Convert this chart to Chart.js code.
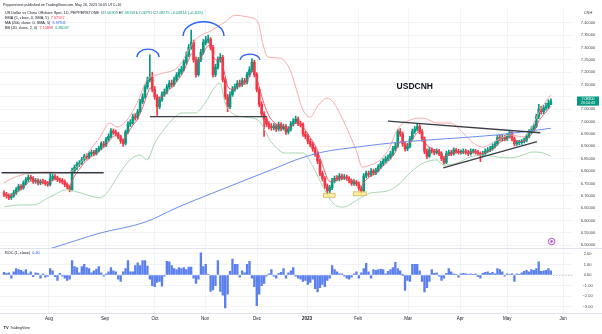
<!DOCTYPE html>
<html>
<head>
<meta charset="utf-8">
<script src="https://cdn.jsdelivr.net/npm/chart.js@4.4.0/dist/chart.umd.min.js"></script>
<style>
  html, body { margin: 0; padding: 0; background: #fff; }
  #wrap { position: relative; width: 602px; height: 334px; overflow: hidden; background: #fff; }
  canvas { position: absolute; left: 0; }
  #main { top: 0; }
  #roc { top: 248px; }
</style>
</head>
<body>
<div id="wrap">
  <canvas id="main" width="602" height="248"></canvas>
  <canvas id="roc" width="602" height="86"></canvas>
</div>
<script>

const opens = [
  6.712,6.705,6.700,6.692,6.700,6.712,6.725,6.738,6.732,6.752,
  6.765,6.775,6.770,6.758,6.762,6.752,6.758,6.756,6.750,6.746,
  6.768,6.778,6.772,6.765,6.760,6.756,6.745,6.736,6.725,6.800,
  6.815,6.828,6.832,6.846,6.860,6.856,6.870,6.876,6.871,6.884,
  6.892,6.910,6.905,6.928,6.940,6.962,6.956,6.950,6.938,6.922,
  6.912,6.958,6.990,6.996,7.020,7.016,7.040,7.080,7.100,7.140,
  7.168,7.180,7.130,7.100,7.060,7.090,7.110,7.120,7.140,7.155,
  7.150,7.170,7.188,7.200,7.212,7.240,7.270,7.300,7.320,7.250,
  7.190,7.250,7.280,7.320,7.330,7.332,7.300,7.190,7.220,7.250,
  7.260,7.170,7.100,7.060,7.110,7.130,7.140,7.155,7.150,7.165,
  7.160,7.190,7.210,7.240,7.190,7.130,7.070,7.030,7.010,6.990,
  6.980,6.975,6.982,6.970,6.988,6.972,6.980,6.958,6.970,6.990,
  7.000,7.010,6.992,6.988,6.950,6.940,6.920,6.908,6.890,6.870,
  6.840,6.790,6.770,6.740,6.720,6.732,6.760,6.770,6.768,6.780,
  6.772,6.776,6.770,6.760,6.750,6.755,6.748,6.730,6.720,6.780,
  6.790,6.785,6.800,6.792,6.802,6.818,6.830,6.840,6.850,6.855,
  6.870,6.890,6.900,6.960,6.950,6.910,6.890,6.900,6.930,6.960,
  6.970,6.980,6.960,6.930,6.880,6.860,6.885,6.880,6.875,6.880,
  6.870,6.850,6.835,6.870,6.875,6.870,6.885,6.880,6.875,6.876,
  6.880,6.875,6.870,6.880,6.880,6.875,6.870,6.865,6.870,6.880,
  6.885,6.890,6.900,6.910,6.935,6.930,6.935,6.930,6.940,6.955,
  6.930,6.910,6.915,6.915,6.920,6.925,6.940,6.960,6.970,6.980,
  7.020,7.050,7.040,7.055,7.060,7.069
];
const highs = [
  6.720,6.714,6.708,6.709,6.722,6.733,6.746,6.745,6.760,6.774,
  6.784,6.783,6.777,6.770,6.768,6.766,6.767,6.763,6.758,6.790,
  6.788,6.786,6.780,6.772,6.770,6.764,6.752,6.743,6.812,6.824,
  6.836,6.842,6.855,6.868,6.870,6.878,6.885,6.884,6.892,6.901,
  6.918,6.920,6.936,6.950,6.972,6.970,6.966,6.957,6.945,6.930,
  6.966,7.000,7.008,7.030,7.032,7.050,7.090,7.112,7.150,7.180,
  7.270,7.200,7.142,7.108,7.100,7.120,7.132,7.150,7.166,7.168,
  7.180,7.198,7.212,7.224,7.250,7.282,7.312,7.370,7.330,7.262,
  7.260,7.292,7.332,7.345,7.350,7.340,7.308,7.232,7.262,7.275,
  7.268,7.178,7.110,7.120,7.142,7.152,7.166,7.168,7.176,7.175,
  7.200,7.222,7.255,7.248,7.198,7.138,7.080,7.040,7.020,7.000,
  6.992,6.992,6.990,6.998,6.996,6.990,6.988,6.980,7.000,7.012,
  7.022,7.018,7.002,6.995,6.960,6.948,6.930,6.916,6.898,6.878,
  6.848,6.800,6.778,6.748,6.742,6.770,6.780,6.782,6.790,6.788,
  6.786,6.784,6.778,6.768,6.765,6.762,6.756,6.738,6.790,6.800,
  6.800,6.810,6.808,6.812,6.826,6.840,6.850,6.860,6.866,6.880,
  6.900,6.912,6.968,6.972,6.958,6.918,6.912,6.940,6.970,6.980,
  6.992,6.988,6.968,6.938,6.890,6.895,6.894,6.888,6.890,6.888,
  6.878,6.858,6.880,6.885,6.884,6.894,6.892,6.888,6.886,6.890,
  6.888,6.884,6.890,6.889,6.888,6.884,6.878,6.880,6.890,6.895,
  6.900,6.910,6.920,6.945,6.944,6.945,6.944,6.950,6.962,6.960,
  6.938,6.924,6.924,6.928,6.934,6.948,6.968,6.980,6.990,7.030,
  7.070,7.062,7.066,7.075,7.088,7.092
];
const lows = [
  6.696,6.690,6.684,6.685,6.694,6.705,6.718,6.724,6.726,6.745,
  6.758,6.762,6.750,6.750,6.744,6.745,6.748,6.742,6.738,6.740,
  6.760,6.764,6.757,6.752,6.748,6.737,6.728,6.716,6.720,6.792,
  6.806,6.818,6.826,6.840,6.848,6.850,6.862,6.863,6.865,6.877,
  6.886,6.897,6.899,6.921,6.934,6.948,6.942,6.930,6.912,6.900,
  6.905,6.952,6.980,6.990,7.006,7.010,7.034,7.072,7.094,7.132,
  7.160,7.120,7.090,7.025,7.052,7.082,7.102,7.112,7.132,7.140,
  7.143,7.162,7.180,7.192,7.205,7.232,7.262,7.292,7.240,7.180,
  7.184,7.242,7.272,7.310,7.318,7.290,7.180,7.182,7.212,7.240,
  7.160,7.090,7.040,7.052,7.102,7.122,7.132,7.140,7.142,7.150,
  7.152,7.182,7.202,7.180,7.120,7.060,7.020,6.940,6.980,6.970,
  6.965,6.966,6.960,6.962,6.962,6.965,6.948,6.950,6.962,6.982,
  6.992,6.984,6.978,6.940,6.930,6.910,6.898,6.880,6.860,6.830,
  6.780,6.760,6.730,6.705,6.712,6.725,6.752,6.760,6.760,6.764,
  6.765,6.762,6.752,6.742,6.742,6.740,6.722,6.710,6.715,6.772,
  6.776,6.778,6.784,6.785,6.796,6.810,6.822,6.832,6.842,6.848,
  6.862,6.882,6.895,6.940,6.900,6.880,6.882,6.894,6.924,6.952,
  6.962,6.950,6.920,6.870,6.850,6.855,6.872,6.866,6.868,6.862,
  6.842,6.828,6.830,6.862,6.862,6.864,6.872,6.868,6.868,6.870,
  6.868,6.862,6.864,6.872,6.868,6.862,6.838,6.858,6.864,6.874,
  6.878,6.884,6.893,6.904,6.922,6.922,6.922,6.924,6.934,6.922,
  6.902,6.904,6.906,6.908,6.914,6.918,6.934,6.952,6.962,6.975,
  7.012,7.030,7.032,7.046,7.052,7.068
];
const closes = [
  6.705,6.700,6.692,6.700,6.712,6.725,6.738,6.732,6.752,6.765,
  6.775,6.770,6.758,6.762,6.752,6.758,6.756,6.750,6.746,6.768,
  6.778,6.772,6.765,6.760,6.756,6.745,6.736,6.725,6.800,6.815,
  6.828,6.832,6.846,6.860,6.856,6.870,6.876,6.871,6.884,6.892,
  6.910,6.905,6.928,6.940,6.962,6.956,6.950,6.938,6.922,6.912,
  6.958,6.990,6.996,7.020,7.016,7.040,7.080,7.100,7.140,7.168,
  7.180,7.130,7.100,7.060,7.090,7.110,7.120,7.140,7.155,7.150,
  7.170,7.188,7.200,7.212,7.240,7.270,7.300,7.320,7.250,7.190,
  7.250,7.280,7.320,7.330,7.332,7.300,7.190,7.220,7.250,7.260,
  7.170,7.100,7.060,7.110,7.130,7.140,7.155,7.150,7.165,7.160,
  7.190,7.210,7.240,7.190,7.130,7.070,7.030,7.010,6.990,6.980,
  6.975,6.982,6.970,6.988,6.972,6.980,6.958,6.970,6.990,7.000,
  7.010,6.992,6.988,6.950,6.940,6.920,6.908,6.890,6.870,6.840,
  6.790,6.770,6.740,6.720,6.732,6.760,6.770,6.768,6.780,6.772,
  6.776,6.770,6.760,6.750,6.755,6.748,6.730,6.720,6.780,6.790,
  6.785,6.800,6.792,6.802,6.818,6.830,6.840,6.850,6.855,6.870,
  6.890,6.900,6.960,6.950,6.910,6.890,6.900,6.930,6.960,6.970,
  6.980,6.960,6.930,6.880,6.860,6.885,6.880,6.875,6.880,6.870,
  6.850,6.835,6.870,6.875,6.870,6.885,6.880,6.875,6.876,6.880,
  6.875,6.870,6.880,6.880,6.875,6.870,6.865,6.870,6.880,6.885,
  6.890,6.900,6.910,6.935,6.930,6.935,6.930,6.940,6.955,6.930,
  6.910,6.915,6.915,6.920,6.925,6.940,6.960,6.970,6.980,7.020,
  7.050,7.040,7.055,7.060,7.075,7.083
];
const ema5 = [
  6.708,6.705,6.701,6.701,6.705,6.712,6.721,6.725,6.734,6.744,
  6.754,6.759,6.759,6.760,6.757,6.757,6.757,6.755,6.752,6.757,
  6.764,6.767,6.766,6.764,6.761,6.756,6.749,6.741,6.761,6.779,
  6.795,6.807,6.820,6.833,6.841,6.851,6.859,6.863,6.870,6.877,
  6.888,6.894,6.905,6.917,6.932,6.940,6.943,6.941,6.935,6.927,
  6.937,6.955,6.969,6.986,6.996,7.011,7.034,7.056,7.084,7.112,
  7.135,7.133,7.122,7.101,7.097,7.101,7.107,7.118,7.130,7.137,
  7.148,7.161,7.174,7.187,7.205,7.227,7.251,7.274,7.266,7.241,
  7.244,7.256,7.277,7.295,7.307,7.305,7.267,7.251,7.251,7.254,
  7.226,7.184,7.143,7.132,7.131,7.134,7.141,7.144,7.151,7.154,
  7.166,7.181,7.201,7.197,7.175,7.140,7.103,7.072,7.045,7.023,
  7.007,6.999,6.989,6.989,6.983,6.982,6.974,6.973,6.979,6.986,
  6.994,6.993,6.991,6.977,6.965,6.950,6.936,6.921,6.904,6.883,
  6.852,6.825,6.797,6.771,6.758,6.759,6.763,6.765,6.770,6.771,
  6.772,6.771,6.767,6.761,6.759,6.755,6.747,6.738,6.752,6.765,
  6.772,6.781,6.785,6.791,6.800,6.810,6.820,6.830,6.838,6.849,
  6.863,6.875,6.903,6.919,6.916,6.907,6.905,6.913,6.929,6.943,
  6.955,6.957,6.948,6.925,6.903,6.897,6.891,6.886,6.884,6.879,
  6.869,6.858,6.862,6.866,6.867,6.873,6.875,6.875,6.875,6.877,
  6.876,6.874,6.876,6.877,6.876,6.874,6.871,6.871,6.874,6.878,
  6.882,6.888,6.895,6.908,6.915,6.922,6.925,6.930,6.938,6.935,
  6.927,6.923,6.920,6.920,6.922,6.928,6.939,6.949,6.959,6.979,
  7.003,7.015,7.028,7.039,7.051,7.062
];
// [bar index, value] readings of the smoother indicator lines
const bbUpper = [
  [0,6.752],[3.7,6.772],[10,6.790],[18.9,6.796],[25.9,6.792],[30,6.816],[35.4,6.885],
  [39.5,6.938],[43.6,6.994],[46.5,6.978],[50.6,7.006],[54.7,7.074],[58.8,7.167],
  [64.2,7.192],[71.6,7.221],[78.6,7.330],[85.6,7.370],[91,7.403],[95,7.430],
  [100.4,7.423],[104.5,7.403],[106.6,7.310],[108.6,7.261],[113.6,7.257],[117.7,7.209],
  [120,7.140],[123,7.047],[126,7.018],[128.8,7.059],[132.9,7.095],[135.4,7.079],
  [139.5,7.006],[145.3,6.873],[147.3,6.816],[150.6,6.824],[154.7,6.844],[158.8,6.897],
  [161.7,6.966],[167,7.006],[172.4,7.014],[178.2,6.994],[183.5,6.994],[188.9,6.954],
  [193,6.913],[197.1,6.897],[202.9,6.925],[208.2,6.946],[213.6,6.938],[216.5,6.966],
  [220.6,7.047],[225,7.109]
];
const bbLower = [
  [0,6.655],[6.6,6.663],[11.9,6.663],[18.9,6.695],[25.9,6.724],[31.3,6.712],[39.5,6.692],
  [42.4,6.712],[47.7,6.793],[51.8,6.845],[56,6.865],[58.8,6.845],[62.1,6.914],
  [69.1,7.006],[73.3,7.035],[78.6,7.035],[82.7,7.075],[86.8,7.140],[88.9,7.156],
  [91,7.075],[93.8,7.035],[99.2,7.018],[104.5,7.006],[110.3,6.913],[115.6,6.873],
  [119.8,6.873],[123,6.873],[127.2,6.816],[131.3,6.735],[135.4,6.670],[139.5,6.654],
  [145.3,6.683],[150.6,6.711],[154.7,6.715],[158.8,6.723],[163,6.751],[167,6.792],
  [172.4,6.832],[178.2,6.845],[180.7,6.824],[186.4,6.832],[191.8,6.857],[197.1,6.865],
  [202.9,6.857],[208.2,6.853],[213.6,6.865],[217.7,6.877],[221.8,6.873],[225,6.860]
];
const sma200 = [
  [17,6.480],[21,6.492],[39.5,6.549],[58,6.593],[71.6,6.654],[85.6,6.710],[99.2,6.763],
  [112.8,6.816],[119.8,6.844],[131.3,6.877],[145.3,6.897],[158.8,6.913],[179.4,6.929],
  [202.9,6.946],[225,6.973]
];
const rocValues = [
  0.25,0.15,0.2,-0.3,0.3,0.6,0.5,0.45,0.3,0.5,
  0.1,0.3,-0.15,0.2,0.15,-0.3,0.1,-0.2,-0.1,0.6,
  0.4,-0.15,-0.5,0.15,-0.1,-0.3,-0.5,-0.4,1.35,0.8,
  0.7,0.2,0.8,1.0,0.7,0.6,0.2,0.4,0.55,0.8,
  0.2,-0.1,0.1,0.3,0.7,0.4,0.3,-0.4,-0.6,0.3,
  0.6,1.35,0.3,0.3,0.9,1.15,0.9,1.35,1.35,0.85,
  -0.4,-1.0,-1.1,-0.7,-0.6,-1.05,-0.1,1.3,1.25,0.9,
  0.6,0.5,0.7,0.6,0.7,0.5,0.75,0.75,-0.3,-0.8,
  -0.4,2.1,0.8,1.0,0.05,-1.55,-1.4,-1.0,1.35,-1.55,
  -1.9,-3.1,-1.8,0.35,1.5,1.0,1.0,-0.2,0.4,0.2,
  1.0,1.3,-0.3,-1.1,-2.9,-1.8,-1.0,-0.8,-0.1,0.1,
  0.5,-0.1,-0.3,0.15,0.25,0.6,-0.3,0.2,0.4,0.7,
  -0.1,-0.3,-0.4,-0.6,-0.5,-0.9,-0.7,-0.4,-1.3,-1.6,
  -1.2,-0.9,-1.1,-0.5,-0.3,0.9,0.5,0.3,0.1,0.1,
  -0.1,-0.3,-0.4,-0.2,0.1,0.3,-0.3,0.2,0.6,1.1,
  0.3,-0.3,0.5,0.45,0.5,0.55,0.5,0.1,0.35,0.5,
  0.7,1.2,0.6,0.4,0,-1.45,-0.5,-0.6,1.0,1.0,
  1.0,0.4,-0.6,-1.6,-1.2,-0.6,0.5,0.15,0.2,-0.1,
  -0.5,-0.3,0.15,0.6,0.3,0.1,0.02,-0.2,0.1,0.15,
  0.1,0.05,0.1,0.05,0.1,-0.15,-0.3,0.15,0.25,0.3,
  0.15,0.25,0.1,0.6,0.5,0.3,-0.1,0.1,0.05,0.1,
  -0.6,0.1,0.02,0.2,0.35,0.45,0.3,0.5,0.45,0.6,
  1.25,0.35,0.4,0.45,0.6,0.4
];

const monthTicks = [18.5, 41.6, 62.1, 82.7, 104.1, 124.7, 145.7, 166.3, 187.7, 207, 230];
const monthLabels = ['Aug', 'Sep', 'Oct', 'Nov', 'Dec', '2023', 'Feb', 'Mar', 'Apr', 'May', 'Jun'];
const priceTicks = [7.40, 7.35, 7.30, 7.25, 7.20, 7.15, 7.10, 7.05, 7.00, 6.95, 6.90,
                    6.85, 6.80, 6.75, 6.70, 6.65, 6.60, 6.55, 6.50];
const rocTicks = [2, 1, 0, -1, -2, -3];

// drawings on the chart: [from bar, to bar, price] etc.
const supportLines = [
  [[-1, 6.793], [41, 6.793]],
  [[60, 7.020], [108, 7.020]],
  [[158, 7.002], [220.6, 6.955]],
  [[180.7, 6.813], [219.3, 6.919]]
];
const arcMarks = [[54.7, 63.8, 7.261, 7.293], [73.7, 90.5, 7.346, 7.404], [97.1, 105.3, 7.249, 7.273]];
const boxMarks = [[131.4, 136.2, 6.710, 6.694], [143.7, 149, 6.716, 6.700]];

const UP = '#089981';
const DOWN = '#f23645';
const FONT = "'Liberation Sans', Arial, sans-serif";
const GRID = '#f2f3f6';
const AXIS_TEXT = '#434651';

Chart.defaults.font.family = FONT;

const X_MIN = -1.65, X_MAX = 234.1;
const idx = closes.map((_, i) => i);
const candleColor = ctx => closes[ctx.dataIndex] >= opens[ctx.dataIndex] ? UP : DOWN;
const pairs = arr => arr.map(p => ({ x: p[0], y: p[1] }));

function drawRuns(ctx, x, y, runs, size, bold) {
  ctx.font = (bold ? 'bold ' : '') + size + 'px ' + FONT;
  ctx.textAlign = 'left';
  ctx.textBaseline = 'middle';
  runs.forEach(([text, color]) => {
    ctx.fillStyle = color;
    ctx.fillText(text, x, y);
    x += ctx.measureText(text).width;
  });
}

function fixedWidth(w) {
  return s => { s.width = w; s.paddingTop = 0; s.paddingBottom = 0; };
}

const mainOverlay = {
  id: 'mainOverlay',
  afterDatasetsDraw(chart) {
    const { ctx } = chart;
    const x = chart.scales.x, y = chart.scales.y;
    ctx.save();

    // blue arcs over the tops
    ctx.strokeStyle = '#2962ff';
    ctx.lineWidth = 1.4;
    arcMarks.forEach(a => {
      const x0 = x.getPixelForValue(a[0]), x1 = x.getPixelForValue(a[1]);
      const yb = y.getPixelForValue(a[2]), yt = y.getPixelForValue(a[3]);
      ctx.beginPath();
      ctx.ellipse((x0 + x1) / 2, yb, (x1 - x0) / 2, yb - yt, 0, Math.PI, 2 * Math.PI);
      ctx.stroke();
    });

    // yellow boxes at the double bottom
    ctx.lineWidth = 0.8;
    boxMarks.forEach(b => {
      const x0 = x.getPixelForValue(b[0]), x1 = x.getPixelForValue(b[1]);
      const y0 = y.getPixelForValue(b[2]), y1 = y.getPixelForValue(b[3]);
      ctx.fillStyle = 'rgba(255, 235, 130, 0.75)';
      ctx.fillRect(x0, y0, x1 - x0, y1 - y0);
      ctx.strokeStyle = '#cfb75a';
      ctx.strokeRect(x0, y0, x1 - x0, y1 - y0);
    });

    // symbol name
    ctx.font = 'bold 8.5px ' + FONT;
    ctx.fillStyle = '#131722';
    ctx.textAlign = 'center';
    ctx.textBaseline = 'middle';
    ctx.fillText('USDCNH', x.getPixelForValue(169), y.getPixelForValue(7.14));

    // event marker
    const mx = x.getPixelForValue(225.3), my = y.getPixelForValue(6.515);
    ctx.beginPath();
    ctx.arc(mx, my, 3.3, 0, 2 * Math.PI);
    ctx.fillStyle = '#f6e9fa';
    ctx.fill();
    ctx.strokeStyle = '#ab47bc';
    ctx.lineWidth = 0.9;
    ctx.stroke();
    ctx.fillStyle = '#ab47bc';
    ctx.beginPath();
    ctx.arc(mx, my, 1.2, 0, 2 * Math.PI);
    ctx.fill();

    // last price label
    const last = closes[closes.length - 1];
    const py = y.getPixelForValue(last);
    ctx.fillStyle = UP;
    ctx.fillRect(577, py - 4.6, 22, 9.2);
    ctx.fillStyle = '#ffffff';
    ctx.font = '3.6px ' + FONT;
    ctx.textAlign = 'center';
    ctx.fillText(last.toFixed(5), 588, py - 2);
    ctx.fillText('20:54:43', 588, py + 2.4);

    ctx.restore();
  },
  afterDraw(chart) {
    const { ctx } = chart;
    ctx.save();
    drawRuns(ctx, 3, 4.5, [['Pepperstone published on TradingView.com, May 26, 2023 10:05 UTC+10', '#131722']], 3.6);
    drawRuns(ctx, 5, 13.3, [
      ['US Dollar vs China Offshore Spot, 1D, PEPPERSTONE  ', '#131722'],
      ['O', '#131722'], ['7.06909 ', UP], ['H', '#131722'], ['7.09158 ', UP],
      ['L', '#131722'], ['7.06791 ', UP], ['C', '#131722'], ['7.08275 ', UP],
      ['+0.02814 (+0.40%)', UP]
    ], 3.8);
    drawRuns(ctx, 5, 18.3, [['EMA (5, close, 0, SMA, 5)  ', '#131722'], ['7.07592', DOWN]], 3.8);
    drawRuns(ctx, 5, 22.9, [['MA (200, close, 0, SMA, 5)  ', '#131722'], ['6.97311', '#2962ff']], 3.8);
    drawRuns(ctx, 5, 27.7, [['BB (20, close, 2, 0)  ', '#131722'], ['7.10898  ', DOWN], ['6.86037', UP]], 3.8);
    ctx.font = '4px ' + FONT;
    ctx.fillStyle = AXIS_TEXT;
    ctx.textAlign = 'center';
    ctx.textBaseline = 'middle';
    ctx.fillText('CNH', 588, 13);
    ctx.restore();
  }
};

const rocOverlay = {
  id: 'rocOverlay',
  afterDatasetsDraw(chart) {
    const { ctx, chartArea } = chart;
    const x = chart.scales.x, y = chart.scales.y;
    ctx.save();
    // zero line to the right of the last bar
    const y0 = Math.round(y.getPixelForValue(0)) + 0.5;
    ctx.strokeStyle = '#b2b5be';
    ctx.lineWidth = 1;
    ctx.setLineDash([1, 2]);
    ctx.beginPath();
    ctx.moveTo(x.getPixelForValue(rocValues.length), y0);
    ctx.lineTo(chartArea.right, y0);
    ctx.stroke();
    ctx.setLineDash([]);
    // pane separators
    ctx.strokeStyle = '#e0e3eb';
    ctx.beginPath();
    ctx.moveTo(0, 0.5);
    ctx.lineTo(602, 0.5);
    ctx.moveTo(0, Math.round(chartArea.bottom) + 0.5);
    ctx.lineTo(602, Math.round(chartArea.bottom) + 0.5);
    ctx.stroke();
    // legend
    drawRuns(ctx, 5, 4.8, [['ROC (1, close)  ', '#131722'], [rocValues[rocValues.length - 1].toFixed(2), '#2962ff']], 3.8);
    // footer logo
    drawRuns(ctx, 3.5, 80, [['TV', '#131722']], 4, true);
    drawRuns(ctx, 10, 80, [['TradingView', '#131722']], 3.6);
    ctx.restore();
  }
};

new Chart(document.getElementById('main'), {
  type: 'bar',
  data: {
    datasets: [
      {
        label: 'wicks', order: 10, grouped: false,
        data: idx.map(i => ({ x: i, y: [lows[i], highs[i]] })),
        backgroundColor: candleColor, barThickness: 1, borderWidth: 0
      },
      {
        label: 'bodies', order: 9, grouped: false,
        data: idx.map(i => ({ x: i, y: [opens[i], closes[i]] })),
        backgroundColor: candleColor, barThickness: 2, minBarLength: 1, borderWidth: 0
      },
      {
        type: 'line', label: 'BB upper', order: 5, data: pairs(bbUpper),
        borderColor: '#f4a3a3', borderWidth: 0.9, pointRadius: 0, tension: 0.4, cubicInterpolationMode: 'monotone'
      },
      {
        type: 'line', label: 'BB lower', order: 5, data: pairs(bbLower),
        borderColor: '#9fd3a8', borderWidth: 0.9, pointRadius: 0, tension: 0.4, cubicInterpolationMode: 'monotone'
      },
      {
        type: 'line', label: 'MA 200', order: 4, data: pairs(sma200),
        borderColor: '#6c8df0', borderWidth: 1, pointRadius: 0, tension: 0.4, cubicInterpolationMode: 'monotone'
      },
      {
        type: 'line', label: 'EMA 5', order: 3, data: idx.map(i => ({ x: i, y: ema5[i] })),
        borderColor: '#ef4c5c', borderWidth: 0.9, pointRadius: 0, tension: 0.3
      },
      ...supportLines.map(seg => ({
        type: 'line', label: 'trend', order: 1, data: pairs(seg),
        borderColor: '#3b3d45', borderWidth: 1.4, pointRadius: 0
      }))
    ]
  },
  options: {
    responsive: false,
    animation: false,
    devicePixelRatio: 1,
    layout: { padding: { top: 9, left: 0, right: 0, bottom: 0 } },
    plugins: { legend: { display: false }, tooltip: { enabled: false } },
    scales: {
      x: {
        type: 'linear', min: X_MIN, max: X_MAX, offset: false,
        afterBuildTicks: s => { s.ticks = monthTicks.map(v => ({ value: v })); },
        ticks: { display: false },
        grid: { color: GRID, drawTicks: false, offset: false },
        border: { display: false },
        afterFit: s => { s.height = 0; s.paddingLeft = 0; s.paddingRight = 0; }
      },
      y: {
        position: 'right', min: 6.4887, max: 7.4554,
        afterBuildTicks: s => { s.ticks = priceTicks.map(v => ({ value: v })); },
        ticks: {
          autoSkip: false, crossAlign: 'center', padding: 7.8, color: AXIS_TEXT,
          font: { size: 4 },
          callback: v => Math.abs(v - 7.10) < 1e-9 ? '' : v.toFixed(5)
        },
        grid: { color: GRID, drawTicks: false },
        border: { display: false },
        afterFit: fixedWidth(29)
      }
    }
  },
  plugins: [mainOverlay]
});

new Chart(document.getElementById('roc'), {
  type: 'bar',
  data: {
    datasets: [{
      label: 'ROC',
      data: idx.map(i => ({ x: i, y: rocValues[i] })),
      backgroundColor: '#5b80ee', barThickness: 1.7, minBarLength: 0.6, borderWidth: 0
    }]
  },
  options: {
    responsive: false,
    animation: false,
    devicePixelRatio: 1,
    layout: { padding: 0 },
    plugins: { legend: { display: false }, tooltip: { enabled: false } },
    scales: {
      x: {
        type: 'linear', min: X_MIN, max: X_MAX, offset: false,
        afterBuildTicks: s => { s.ticks = monthTicks.map(v => ({ value: v })); },
        ticks: {
          autoSkip: false, maxRotation: 0, padding: 3.3, color: '#131722',
          font: c => ({ size: 4.5, weight: c.tick && c.tick.label === '2023' ? 'bold' : 'normal' }),
          callback: (v, i) => monthLabels[i]
        },
        grid: { color: GRID, drawTicks: false, offset: false },
        border: { display: false },
        afterFit: s => { s.height = 21.5; s.paddingLeft = 0; s.paddingRight = 0; }
      },
      y: {
        position: 'right', min: -3.538, max: 2.547,
        afterBuildTicks: s => { s.ticks = rocTicks.map(v => ({ value: v })); },
        ticks: {
          autoSkip: false, crossAlign: 'center', padding: 9.5, color: AXIS_TEXT,
          font: { size: 4 },
          callback: v => (v < 0 ? '\u2212' : '') + Math.abs(v).toFixed(2)
        },
        grid: { color: GRID, drawTicks: false },
        border: { display: false },
        afterFit: fixedWidth(29)
      }
    }
  },
  plugins: [rocOverlay]
});
</script>
</body>
</html>
